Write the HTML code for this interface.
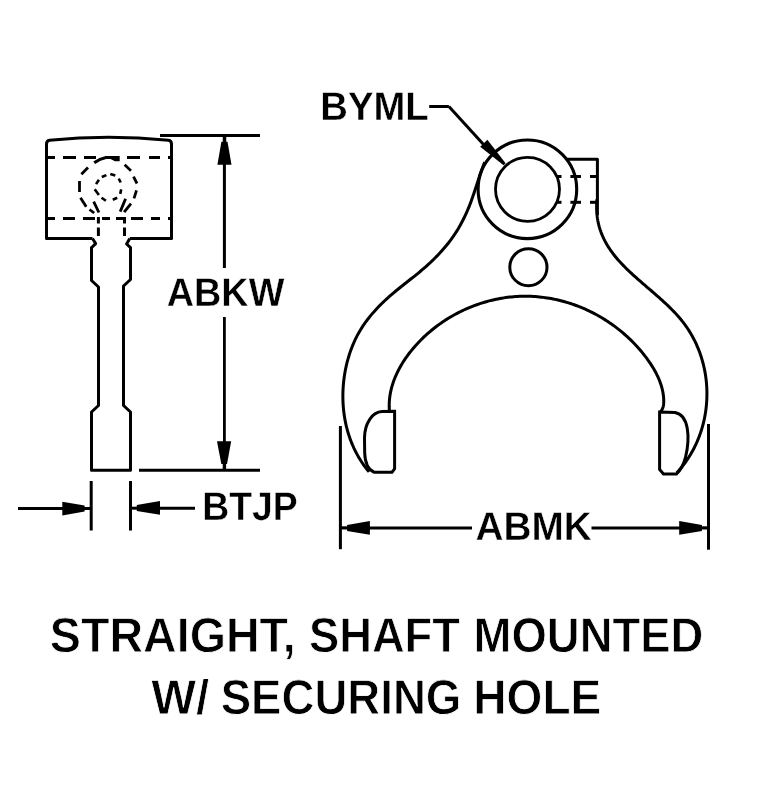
<!DOCTYPE html>
<html><head><meta charset="utf-8"><style>
html,body{margin:0;padding:0;background:#fff;width:761px;height:792px;overflow:hidden}
svg{display:block;will-change:transform}
text{text-rendering:geometricPrecision;font-family:"Liberation Sans",sans-serif;font-weight:bold;fill:#000;stroke:#fff;paint-order:normal}
</style></head><body>
<svg width="761" height="792" viewBox="0 0 761 792">
<g fill="none" stroke="#000" stroke-linecap="butt" stroke-linejoin="round">
<path d="M92.5,238.4 L46.5,238.4 L46.5,144 Q46.5,140.8 49.5,140.3 Q108,134 168.5,140.3 Q171.5,140.8 171.5,144 L171.5,238.4 L129.8,238.4" stroke-width="3"/>
<path d="M92.5,238.4 L95.6,243.6 L92,247.2 L91.5,247.5 L91.5,280.5 L98.5,287 L98.5,405.5 L91.5,412 L91.5,470.3 L130.5,470.3 L130.5,412 L123.5,405.5 L123.5,286 L130.5,279.5 L130.5,247.5 L130,247.2 L126.6,244 L129.8,238.4" stroke-width="3"/>
<line x1="47.0" y1="157.5" x2="55.0" y2="157.5" stroke-width="3"/>
<line x1="63.0" y1="157.5" x2="76.0" y2="157.5" stroke-width="3"/>
<line x1="84.0" y1="157.5" x2="96.0" y2="157.5" stroke-width="3"/>
<line x1="105.0" y1="157.5" x2="119.0" y2="157.5" stroke-width="3"/>
<line x1="127.0" y1="157.5" x2="140.0" y2="157.5" stroke-width="3"/>
<line x1="149.0" y1="157.5" x2="160.0" y2="157.5" stroke-width="3"/>
<line x1="168.0" y1="157.5" x2="171.0" y2="157.5" stroke-width="3"/>
<line x1="47.0" y1="218.5" x2="55.0" y2="218.5" stroke-width="3"/>
<line x1="63.0" y1="218.5" x2="75.0" y2="218.5" stroke-width="3"/>
<line x1="83.0" y1="218.5" x2="95.0" y2="218.5" stroke-width="3"/>
<line x1="102.0" y1="218.5" x2="110.0" y2="218.5" stroke-width="3"/>
<line x1="116.0" y1="218.5" x2="126.0" y2="218.5" stroke-width="3"/>
<line x1="131.0" y1="218.5" x2="143.0" y2="218.5" stroke-width="3"/>
<line x1="151.0" y1="218.5" x2="160.0" y2="218.5" stroke-width="3"/>
<line x1="168.0" y1="218.5" x2="171.0" y2="218.5" stroke-width="3"/>
<line x1="98.4" y1="217.0" x2="98.4" y2="223.5" stroke-width="3"/>
<line x1="98.4" y1="227.5" x2="98.4" y2="236.0" stroke-width="3"/>
<line x1="124.5" y1="217.0" x2="124.5" y2="223.5" stroke-width="3"/>
<line x1="124.5" y1="227.5" x2="124.5" y2="236.0" stroke-width="3"/>
<path d="M94.2,162.8 Q100,158.5 106,157.5" stroke-width="3.2"/>
<path d="M110.5,156 L119.7,156 L119.7,161.2 L115,161.2 L110.5,159 Z" fill="#000" stroke="none"/>
<line x1="81.4" y1="174.2" x2="88.0" y2="167.5" stroke-width="2.8"/>
<line x1="79.5" y1="181.0" x2="79.5" y2="192.0" stroke-width="2.8"/>
<line x1="80.5" y1="197.8" x2="86.2" y2="206.8" stroke-width="2.8"/>
<line x1="89.5" y1="209.5" x2="94.2" y2="213.0" stroke-width="2.8"/>
<line x1="124.6" y1="164.8" x2="131.0" y2="170.7" stroke-width="2.8"/>
<line x1="133.5" y1="176.6" x2="137.0" y2="183.5" stroke-width="2.8"/>
<line x1="136.5" y1="190.4" x2="134.0" y2="198.3" stroke-width="2.8"/>
<line x1="131.0" y1="203.7" x2="124.1" y2="212.1" stroke-width="2.8"/>
<line x1="93.7" y1="201.6" x2="98.9" y2="212.5" stroke-width="2.8"/>
<line x1="125.6" y1="198.8" x2="120.2" y2="211.6" stroke-width="2.8"/>
<line x1="96.1" y1="184.1" x2="98.9" y2="179.8" stroke-width="2.6"/>
<line x1="101.8" y1="177.0" x2="106.4" y2="175.1" stroke-width="2.6"/>
<line x1="110.3" y1="174.0" x2="115.3" y2="175.6" stroke-width="2.6"/>
<line x1="118.7" y1="178.6" x2="120.7" y2="182.5" stroke-width="2.6"/>
<line x1="121.2" y1="189.4" x2="120.2" y2="193.9" stroke-width="2.6"/>
<line x1="112.8" y1="199.8" x2="117.2" y2="197.8" stroke-width="2.6"/>
<line x1="101.5" y1="197.8" x2="105.9" y2="200.8" stroke-width="2.6"/>
<line x1="94.7" y1="189.3" x2="98.9" y2="195.0" stroke-width="2.6"/>
<line x1="160.0" y1="135.5" x2="260.0" y2="135.5" stroke-width="3"/>
<line x1="139.0" y1="470.3" x2="260.0" y2="470.3" stroke-width="3"/>
<line x1="224.4" y1="160.0" x2="224.4" y2="268.0" stroke-width="3"/>
<line x1="224.4" y1="317.0" x2="224.4" y2="445.0" stroke-width="2.8"/>
<path d="M221.4,141.8 L227.5,141.8 L231.5,164.8 L217.4,164.8 Z" fill="#000" stroke="none"/>
<line x1="224.5" y1="136.0" x2="224.5" y2="143.0" stroke-width="3.5"/>
<path d="M217,441.2 L231.2,441.2 L227,464.1 L221.3,464.1 Z" fill="#000" stroke="none"/>
<line x1="224.4" y1="463.0" x2="224.4" y2="470.0" stroke-width="3.4"/>
<line x1="91.2" y1="481.0" x2="91.2" y2="530.5" stroke-width="3"/>
<line x1="130.5" y1="481.0" x2="130.5" y2="530.5" stroke-width="3"/>
<line x1="18.0" y1="508.6" x2="70.0" y2="508.6" stroke-width="3"/>
<path d="M62.3,501.7 L62.3,515.6 L84.6,511.4 L84.6,505.5 Z" fill="#000" stroke="none"/>
<line x1="84.0" y1="508.5" x2="91.0" y2="508.5" stroke-width="3"/>
<line x1="150.0" y1="508.3" x2="195.0" y2="508.3" stroke-width="3"/>
<path d="M160,500.9 L160,514.8 L136.8,510.9 L136.8,505 Z" fill="#000" stroke="none"/>
<line x1="130.0" y1="508.2" x2="137.5" y2="508.2" stroke-width="3"/>
<circle cx="527.4" cy="189.3" r="49.3" stroke-width="3.1"/>
<circle cx="527.5" cy="189.3" r="32" stroke-width="2.8"/>
<ellipse cx="528.4" cy="267.2" rx="18.6" ry="18.5" stroke-width="3"/>
<path d="M567,159.3 L597.4,159.3 L597.4,215" stroke-width="3"/>
<line x1="556.6" y1="176.5" x2="561.5" y2="176.5" stroke-width="3"/>
<line x1="556.6" y1="202.3" x2="561.5" y2="202.3" stroke-width="3"/>
<line x1="570.4" y1="176.5" x2="581.0" y2="176.5" stroke-width="3"/>
<line x1="570.4" y1="202.3" x2="581.0" y2="202.3" stroke-width="3"/>
<line x1="590.0" y1="176.5" x2="597.0" y2="176.5" stroke-width="3"/>
<line x1="590.0" y1="202.3" x2="597.0" y2="202.3" stroke-width="3"/>
<path d="M484.77,162.08 L484.03,163.87 L483.31,165.67 L482.62,167.49 L481.94,169.31 L481.27,171.15 L480.62,173.00 L479.98,174.86 L479.35,176.73 L478.73,178.60 L478.11,180.48 L477.50,182.36 L476.89,184.25 L476.28,186.14 L475.66,188.03 L475.05,189.92 L474.42,191.81 L473.79,193.71 L473.15,195.59 L472.50,197.48 L471.83,199.36 L471.15,201.24 L470.45,203.10 L469.73,204.97 L468.99,206.82 L468.24,208.67 L467.46,210.50 L466.66,212.33 L465.85,214.15 L465.01,215.95 L464.15,217.75 L463.26,219.53 L462.36,221.30 L461.43,223.06 L460.48,224.80 L459.51,226.53 L458.51,228.24 L457.49,229.94 L456.44,231.63 L455.37,233.30 L454.27,234.95 L453.15,236.58 L452.01,238.20 L450.84,239.80 L449.65,241.39 L448.44,242.96 L447.20,244.51 L445.95,246.05 L444.67,247.57 L443.38,249.08 L442.06,250.58 L440.73,252.05 L439.38,253.52 L438.01,254.97 L436.63,256.40 L435.23,257.82 L433.81,259.23 L432.38,260.62 L430.93,262.00 L429.47,263.36 L428.00,264.71 L426.51,266.05 L425.02,267.37 L423.51,268.68 L421.99,269.98 L420.46,271.27 L418.92,272.54 L417.37,273.81 L415.82,275.07 L414.26,276.32 L412.69,277.56 L411.12,278.80 L409.55,280.04 L407.98,281.28 L406.41,282.51 L404.84,283.75 L403.27,284.99 L401.70,286.23 L400.14,287.48 L398.58,288.74 L397.03,290.00 L395.49,291.27 L393.95,292.55 L392.43,293.84 L390.91,295.15 L389.41,296.47 L387.92,297.80 L386.44,299.14 L384.97,300.50 L383.52,301.87 L382.09,303.26 L380.67,304.65 L379.27,306.07 L377.88,307.50 L376.52,308.94 L375.17,310.41 L373.85,311.88 L372.54,313.37 L371.26,314.88 L370.00,316.41 L368.77,317.95 L367.55,319.52 L366.37,321.09 L365.21,322.69 L364.07,324.31 L362.97,325.94 L361.89,327.60 L360.84,329.27 L359.82,330.96 L358.83,332.67 L357.88,334.40 L356.95,336.15 L356.05,337.92 L355.19,339.71 L354.35,341.51 L353.55,343.33 L352.77,345.16 L352.03,347.01 L351.31,348.87 L350.63,350.74 L349.97,352.63 L349.34,354.53 L348.75,356.44 L348.18,358.36 L347.64,360.29 L347.13,362.23 L346.65,364.18 L346.20,366.14 L345.78,368.10 L345.38,370.07 L345.02,372.05 L344.68,374.03 L344.37,376.02 L344.09,378.01 L343.84,380.01 L343.62,382.01 L343.42,384.01 L343.26,386.02 L343.13,388.02 L343.02,390.03 L342.94,392.04 L342.90,394.05 L342.88,396.06 L342.89,398.07 L342.93,400.07 L343.01,402.08 L343.11,404.08 L343.24,406.08 L343.40,408.07 L343.60,410.07 L343.82,412.06 L344.08,414.04 L344.36,416.02 L344.68,417.99 L345.02,419.95 L345.40,421.91 L345.81,423.86 L346.25,425.81 L346.72,427.74 L347.23,429.67 L347.76,431.58 L348.33,433.49 L348.93,435.39 L349.56,437.27 L350.22,439.14 L350.92,441.00 L351.64,442.85 L352.40,444.69 L353.20,446.51 L354.02,448.32 L354.88,450.11 L355.77,451.89 L356.69,453.65 L357.65,455.40 L358.64,457.13 L359.66,458.84 L360.72,460.54 L361.81,462.21 L362.93,463.87 L364.09,465.51 L365.28,467.13 L366.51,468.73 L367.77,470.31 L369.06,471.86" stroke-width="3"/>
<path d="M597.00,199.18 L596.81,201.49 L596.69,203.77 L596.63,206.01 L596.63,208.22 L596.69,210.39 L596.81,212.53 L596.98,214.63 L597.22,216.69 L597.51,218.73 L597.85,220.73 L598.25,222.70 L598.69,224.65 L599.19,226.56 L599.74,228.44 L600.34,230.29 L600.98,232.12 L601.67,233.92 L602.40,235.69 L603.18,237.44 L604.00,239.17 L604.86,240.87 L605.76,242.54 L606.70,244.20 L607.67,245.83 L608.68,247.44 L609.73,249.03 L610.81,250.60 L611.93,252.16 L613.07,253.69 L614.25,255.21 L615.45,256.71 L616.69,258.20 L617.95,259.67 L619.23,261.12 L620.54,262.57 L621.88,264.00 L623.23,265.41 L624.61,266.82 L626.00,268.21 L627.42,269.60 L628.85,270.98 L630.29,272.34 L631.76,273.70 L633.23,275.06 L634.72,276.40 L636.22,277.74 L637.73,279.08 L639.24,280.41 L640.77,281.74 L642.30,283.07 L643.84,284.39 L645.38,285.72 L646.92,287.04 L648.47,288.36 L650.02,289.69 L651.56,291.01 L653.11,292.34 L654.65,293.67 L656.18,295.01 L657.71,296.35 L659.24,297.69 L660.75,299.05 L662.26,300.41 L663.76,301.77 L665.25,303.15 L666.72,304.53 L668.18,305.93 L669.62,307.33 L671.05,308.75 L672.46,310.18 L673.85,311.62 L675.22,313.07 L676.58,314.54 L677.90,316.02 L679.21,317.52 L680.49,319.04 L681.75,320.57 L682.97,322.13 L684.18,323.70 L685.35,325.28 L686.49,326.89 L687.60,328.52 L688.68,330.17 L689.73,331.84 L690.74,333.52 L691.73,335.22 L692.69,336.94 L693.62,338.68 L694.51,340.43 L695.38,342.19 L696.21,343.97 L697.01,345.77 L697.79,347.58 L698.53,349.40 L699.24,351.23 L699.92,353.08 L700.56,354.94 L701.18,356.81 L701.77,358.69 L702.32,360.58 L702.84,362.48 L703.34,364.39 L703.80,366.31 L704.23,368.24 L704.62,370.17 L704.99,372.11 L705.33,374.06 L705.63,376.01 L705.90,377.97 L706.14,379.93 L706.35,381.90 L706.52,383.87 L706.67,385.85 L706.78,387.82 L706.86,389.80 L706.91,391.79 L706.93,393.77 L706.91,395.75 L706.87,397.74 L706.79,399.72 L706.68,401.71 L706.53,403.69 L706.36,405.67 L706.15,407.65 L705.91,409.62 L705.64,411.59 L705.33,413.56 L704.99,415.52 L704.62,417.48 L704.22,419.43 L703.79,421.38 L703.32,423.32 L702.82,425.25 L702.29,427.18 L701.72,429.10 L701.12,431.00 L700.49,432.90 L699.83,434.79 L699.13,436.67 L698.40,438.54 L697.64,440.40 L696.84,442.25 L696.01,444.08 L695.15,445.90 L694.25,447.71 L693.33,449.50 L692.36,451.28 L691.37,453.05 L690.34,454.80 L689.28,456.53 L688.18,458.25 L687.05,459.95 L685.89,461.63 L684.70,463.29 L683.47,464.94 L682.20,466.57 L680.91,468.17 L679.58,469.76 L678.21,471.33 L676.82,472.87" stroke-width="3"/>
<path d="M389.51,412.03 L389.35,410.06 L389.24,408.10 L389.20,406.14 L389.21,404.19 L389.29,402.25 L389.42,400.31 L389.60,398.37 L389.84,396.45 L390.13,394.53 L390.48,392.62 L390.87,390.72 L391.32,388.82 L391.81,386.94 L392.36,385.07 L392.95,383.20 L393.58,381.35 L394.26,379.51 L394.98,377.68 L395.75,375.86 L396.56,374.06 L397.40,372.26 L398.29,370.48 L399.21,368.72 L400.17,366.97 L401.17,365.23 L402.20,363.51 L403.27,361.80 L404.36,360.11 L405.49,358.44 L406.65,356.78 L407.84,355.14 L409.06,353.52 L410.30,351.91 L411.57,350.33 L412.87,348.76 L414.19,347.21 L415.53,345.68 L416.89,344.18 L418.27,342.69 L419.68,341.22 L421.10,339.78 L422.54,338.35 L424.00,336.95 L425.48,335.57 L426.98,334.21 L428.49,332.87 L430.03,331.56 L431.58,330.26 L433.14,328.99 L434.73,327.74 L436.33,326.51 L437.94,325.31 L439.57,324.13 L441.22,322.97 L442.88,321.83 L444.56,320.72 L446.24,319.62 L447.95,318.56 L449.66,317.51 L451.39,316.49 L453.14,315.49 L454.89,314.52 L456.66,313.57 L458.44,312.64 L460.23,311.74 L462.03,310.86 L463.84,310.01 L465.67,309.18 L467.50,308.37 L469.34,307.59 L471.20,306.84 L473.06,306.10 L474.93,305.40 L476.81,304.72 L478.69,304.06 L480.59,303.43 L482.49,302.83 L484.40,302.25 L486.32,301.70 L488.24,301.17 L490.17,300.67 L492.10,300.19 L494.04,299.74 L495.99,299.32 L497.94,298.92 L499.89,298.55 L501.85,298.21 L503.81,297.89 L505.78,297.61 L507.75,297.34 L509.72,297.11 L511.69,296.90 L513.67,296.72 L515.64,296.57 L517.62,296.44 L519.60,296.35 L521.58,296.28 L523.57,296.24 L525.55,296.23 L527.53,296.24 L529.51,296.28 L531.49,296.36 L533.47,296.46 L535.45,296.59 L537.42,296.74 L539.39,296.93 L541.37,297.14 L543.33,297.38 L545.30,297.64 L547.26,297.93 L549.22,298.25 L551.17,298.60 L553.12,298.97 L555.07,299.37 L557.01,299.80 L558.95,300.25 L560.88,300.73 L562.80,301.23 L564.72,301.76 L566.63,302.32 L568.54,302.90 L570.44,303.50 L572.33,304.13 L574.21,304.79 L576.09,305.47 L577.96,306.17 L579.82,306.90 L581.67,307.66 L583.51,308.44 L585.34,309.24 L587.16,310.06 L588.98,310.91 L590.78,311.79 L592.57,312.68 L594.35,313.60 L596.12,314.55 L597.88,315.51 L599.63,316.50 L601.36,317.52 L603.08,318.55 L604.79,319.61 L606.49,320.69 L608.17,321.79 L609.84,322.91 L611.50,324.06 L613.14,325.22 L614.76,326.41 L616.38,327.62 L617.97,328.85 L619.55,330.11 L621.12,331.38 L622.67,332.67 L624.20,333.99 L625.72,335.32 L627.22,336.68 L628.70,338.05 L630.17,339.45 L631.61,340.86 L633.04,342.30 L634.45,343.75 L635.84,345.23 L637.22,346.72 L638.57,348.23 L639.90,349.77 L641.22,351.32 L642.51,352.89 L643.78,354.47 L645.03,356.08 L646.27,357.70 L647.47,359.35 L648.66,361.01 L649.81,362.68 L650.94,364.37 L652.03,366.08 L653.09,367.81 L654.12,369.55 L655.10,371.30 L656.05,373.07 L656.95,374.85 L657.80,376.64 L658.61,378.45 L659.37,380.26 L660.07,382.09 L660.72,383.93 L661.32,385.78 L661.85,387.64 L662.33,389.51 L662.73,391.39 L663.08,393.27 L663.35,395.17 L663.56,397.07 L663.69,398.97 L663.74,400.89 L663.71,402.80 L663.55,404.71 L663.21,406.58 L662.63,408.41 L661.77,410.18 L660.59,411.86" stroke-width="3"/>
<path d="M394.6,411.3 L382,411.6 C372.5,412 364.6,423 364.5,438 L364.7,453 C365,462 368,469.5 374,472.2 L392,472.2 L394.6,468.8 Z" stroke-width="3" stroke-linejoin="miter"/>
<path d="M659.6,412 L675,412.5 C681,413.5 685.5,419 687.2,428 C688.8,437 688,447 685.5,457.5 C683.5,465 680.5,470 676.5,474 L663.5,474 L659.6,469.5 Z" stroke-width="3" stroke-linejoin="miter"/>
<line x1="429.2" y1="106.5" x2="448.9" y2="106.5" stroke-width="3"/>
<line x1="448.9" y1="106.5" x2="484.0" y2="145.0" stroke-width="3"/>
<path d="M480.2,146.8 L487.4,139.8 L505.6,163.2 L503.6,165.2 Z" fill="#000" stroke="none"/>
<line x1="340.4" y1="426.0" x2="340.4" y2="549.2" stroke-width="3"/>
<line x1="708.5" y1="424.0" x2="708.5" y2="549.7" stroke-width="3"/>
<line x1="360.0" y1="527.9" x2="472.0" y2="527.9" stroke-width="3"/>
<path d="M369.9,520.9 L369.9,534.8 L347.1,531 L347.1,525.1 Z" fill="#000" stroke="none"/>
<line x1="341.0" y1="527.9" x2="348.0" y2="527.9" stroke-width="3.2"/>
<line x1="591.5" y1="527.9" x2="690.0" y2="527.9" stroke-width="3"/>
<path d="M679.2,520.9 L679.2,534.8 L701.9,531 L701.9,525.1 Z" fill="#000" stroke="none"/>
<line x1="701.0" y1="527.9" x2="708.0" y2="527.9" stroke-width="3.2"/>
</g>
<g>
<text x="166.75" y="305.71" font-size="40.00" stroke-width="0.40" textLength="117.56" lengthAdjust="spacingAndGlyphs">ABKW</text>
<text x="202.19" y="519.71" font-size="40.00" stroke-width="0.40" textLength="95.52" lengthAdjust="spacingAndGlyphs">BTJP</text>
<text x="320.29" y="119.61" font-size="40.00" stroke-width="0.40" textLength="108.45" lengthAdjust="spacingAndGlyphs">BYML</text>
<text x="475.55" y="539.56" font-size="40.00" stroke-width="0.40" textLength="116.26" lengthAdjust="spacingAndGlyphs">ABMK</text>
<text x="49.85" y="651.70" font-size="49.00" stroke-width="0.80" textLength="245.98" lengthAdjust="spacingAndGlyphs">STRAIGHT,</text>
<text x="308.91" y="651.70" font-size="49.00" stroke-width="0.80" textLength="151.11" lengthAdjust="spacingAndGlyphs">SHAFT</text>
<text x="473.62" y="651.70" font-size="49.00" stroke-width="0.80" textLength="229.83" lengthAdjust="spacingAndGlyphs">MOUNTED</text>
<text x="151.15" y="713.70" font-size="49.00" stroke-width="0.80" textLength="58.08" lengthAdjust="spacingAndGlyphs">W/</text>
<text x="220.68" y="713.70" font-size="49.00" stroke-width="0.80" textLength="240.64" lengthAdjust="spacingAndGlyphs">SECURING</text>
<text x="473.33" y="713.70" font-size="49.00" stroke-width="0.80" textLength="128.05" lengthAdjust="spacingAndGlyphs">HOLE</text>
</g>
</svg>
</body></html>
